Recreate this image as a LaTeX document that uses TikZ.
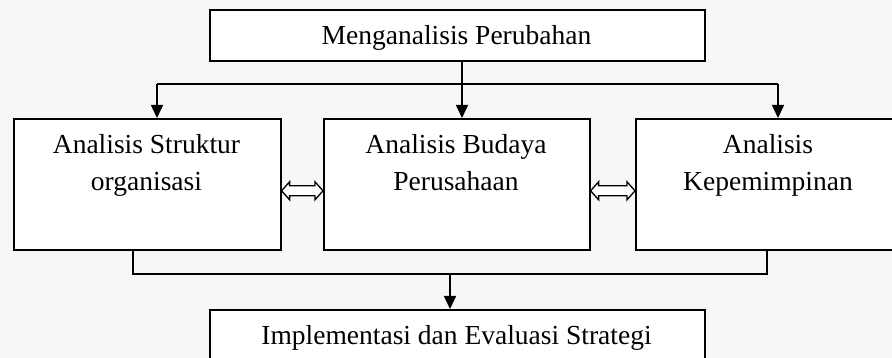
\documentclass[tikz,border=0pt]{standalone}
\usepackage{fontspec}
\setmainfont{Liberation Serif}
\usetikzlibrary{arrows.meta,calc}
\newcommand\dblarrow[2]{\draw[dbl] (#1) -- ++(8,-9) -- ++(0,4) -- ($(#2)+(-8,-5)$) -- ++(0,-4) -- (#2) -- ++(-8,9) -- ++(0,-4) -- ($(#1)+(8,5)$) -- ++(0,4) -- cycle;}
\begin{document}
\begin{tikzpicture}[x=1pt,y=-1pt,
  box/.style={draw,line width=1.6pt,fill=white,inner sep=0pt,anchor=north west},
  lbl/.style={font=\fontsize{27.5}{33}\selectfont,inner sep=0pt,anchor=base},
  conn/.style={line width=1.6pt},
  arr/.style={conn,-{Triangle[length=13pt,width=12pt]}},
  dbl/.style={line width=1.3pt,fill=white,line join=miter}]
\useasboundingbox (0,0) rectangle (892,358);
\fill[black!3] (0,0) rectangle (892,358);
\clip (0,0) rectangle (892,358);
% boxes
\node[box,minimum width=495pt,minimum height=51pt] (top) at (209,9) {};
\node[box,minimum width=267pt,minimum height=131pt] (left) at (13,118) {};
\node[box,minimum width=266pt,minimum height=131pt] (mid) at (323,118) {};
\node[box,minimum width=266pt,minimum height=131pt] (right) at (635,118) {};
\node[box,minimum width=495pt,minimum height=60pt] (bot) at (209,309) {};
% labels
\node[lbl] (ttop) at (456.5,45) {Menganalisis Perubahan};
\node[lbl] (tl1) at (146.5,154) {Analisis Struktur};
\node[lbl] (tl2) at (146.5,191) {organisasi};
\node[lbl] (tm1) at (456,154) {Analisis Budaya};
\node[lbl] (tm2) at (456,191) {Perusahaan};
\node[lbl] (tr1) at (768,154) {Analisis};
\node[lbl] (tr2) at (768,191) {Kepemimpinan};
\node[lbl] (tbot) at (456.5,344) {Implementasi dan Evaluasi Strategi};
% top distribution
\coordinate (jm) at (462,84);
\coordinate (jl) at (157,84);
\coordinate (jr) at (778,84);
\draw[arr] (jm |- top.south) -- (jm |- mid.north);
\draw[conn] (jl) -- (jr);
\draw[arr] (jl) -- (jl |- left.north);
\draw[arr] (jr) -- (jr |- right.north);
% bottom collection
\coordinate (bl) at (133,274);
\coordinate (br) at (767,274);
\coordinate (bm) at (450,274);
\draw[conn] (bl |- left.south) -- (bl) -- (br) -- (br |- right.south);
\draw[arr] (bm) -- (bm |- bot.north);
% double arrows
\dblarrow{$(left.east)+(0,6.5)$}{$(mid.west)+(0,6.5)$}
\dblarrow{$(mid.east)+(0,6.5)$}{$(right.west)+(0,6.5)$}
\end{tikzpicture}
\end{document}
